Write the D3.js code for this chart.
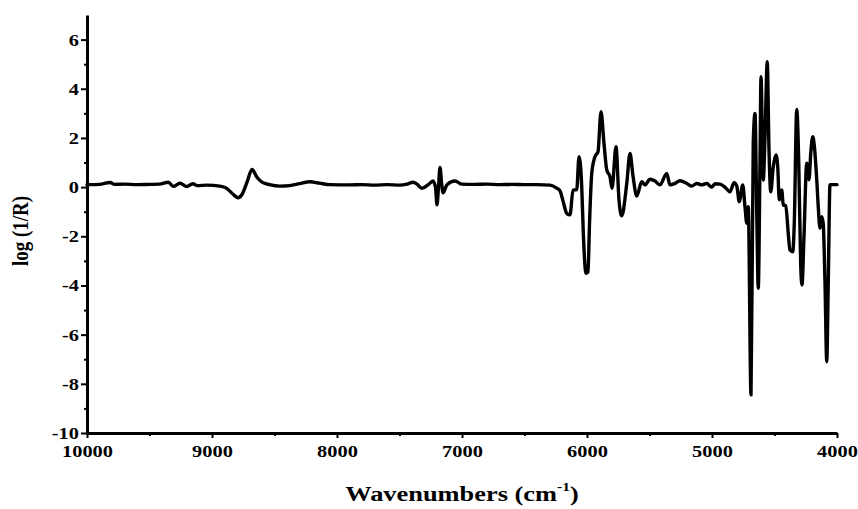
<!DOCTYPE html>
<html>
<head>
<meta charset="utf-8">
<script src="https://cdn.jsdelivr.net/npm/d3@7"></script>
<style>
  html, body { margin: 0; padding: 0; background: #fff; }
  svg { display: block; }
  .axis text { font-family: "Times New Roman", "Liberation Serif", serif; font-weight: bold; font-size: 17px; fill: #000; }
  .axis path, .axis line { stroke: #000; }
  .title { font-family: "Times New Roman", "Liberation Serif", serif; font-weight: bold; fill: #000; }
</style>
</head>
<body>
<svg id="chart" width="858" height="509"></svg>
<script>
// NIR spectrum, log(1/R) versus wavenumber
const wavenumbers = [
  10000, 9900, 9816, 9780, 9700, 9600, 9500, 9420, 9350, 9310, 9256, 9202, 9154, 9118, 9042,
  8936, 8882, 8840, 8792, 8760, 8720, 8680, 8640, 8600, 8540, 8456, 8380, 8300, 8216, 8140, 8056,
  7900, 7800, 7700, 7600, 7500, 7440, 7392, 7360, 7320, 7270, 7232, 7212, 7200, 7188, 7176, 7164,
  7152, 7120, 7056, 7000, 6900, 6800, 6700, 6600, 6500, 6400, 6296, 6240, 6216, 6190, 6162, 6136,
  6112, 6082, 6064, 6042, 6030, 6008, 5992, 5980, 5962, 5936, 5912, 5888, 5864, 5842, 5816, 5800,
  5768, 5744, 5722, 5682, 5656, 5632, 5602, 5562, 5536, 5496, 5456, 5416, 5362, 5336, 5296, 5256,
  5202, 5162, 5122, 5082, 5042, 5002, 4976, 4936, 4896, 4856, 4824, 4802, 4782, 4754, 4736, 4722,
  4710, 4688, 4670, 4656, 4642, 4630, 4616, 4608, 4590, 4576, 4558, 4544, 4530, 4510, 4488, 4474,
  4462, 4442, 4430, 4410, 4390, 4376, 4354, 4342, 4322, 4306, 4290, 4280, 4264, 4242, 4224, 4210,
  4194, 4182, 4162, 4150, 4136, 4122, 4110, 4096, 4082, 4070, 4056, 4000
];
const logInvR = [
  0.10, 0.11, 0.19, 0.11, 0.12, 0.10, 0.11, 0.12, 0.20, 0.03, 0.16, 0.02, 0.14, 0.06, 0.08,
  0.04, -0.05, -0.25, -0.43, -0.30, 0.20, 0.72, 0.40, 0.20, 0.10, 0.04, 0.06, 0.14, 0.22, 0.16, 0.10,
  0.09, 0.10, 0.08, 0.10, 0.08, 0.12, 0.20, 0.12, -0.05, 0.10, 0.25, 0.00, -0.72, 0.00, 0.80, 0.20,
  -0.23, 0.10, 0.25, 0.12, 0.11, 0.12, 0.10, 0.11, 0.10, 0.10, 0.08, -0.05, -0.15, -0.60, -1.07, -1.13,
  -0.12, -0.10, 1.24, 0.00, -1.80, -3.50, -3.45, -1.50, 0.56, 1.24, 1.44, 3.07, 1.78, 0.70, 0.42, -0.05,
  1.64, -0.53, -1.17, 0.15, 1.37, 0.45, -0.36, 0.22, 0.09, 0.32, 0.25, 0.09, 0.56, 0.09, 0.15, 0.26,
  0.15, 0.04, 0.15, 0.09, 0.15, 0.00, 0.14, 0.12, 0.00, -0.19, 0.18, 0.05, -0.59, 0.09, -0.80, -1.47,
  -0.80, -8.45, 1.78, 3.00, -1.00, -4.11, 1.00, 4.49, 0.29, 2.00, 5.10, 1.50, -0.19, 0.83, 1.31, 0.80,
  -0.52, -0.12, -0.73, -0.75, -1.88, -2.56, -2.63, -1.50, 3.16, 1.00, -3.24, -3.98, -2.00, 0.97, 0.30, 1.37,
  2.05, 1.70, 0.30, -0.80, -1.67, -1.20, -1.50, -3.90, -7.10, -3.90, 0.10, 0.10
];

const xMajorTicks = [10000, 9000, 8000, 7000, 6000, 5000, 4000];
const xMinorTicks = [9500, 8500, 7500, 6500, 5500, 4500];
const yMajorTicks = [-10, -8, -6, -4, -2, 0, 2, 4, 6];
const yMinorTicks = [-9, -7, -5, -3, -1, 1, 3, 5];

const svg = d3.select("#chart");
const plotLeft = 87, plotRight = 837, plotTop = 15, plotBottom = 433;
const stretch = 1.2;   // wide glyph proportions for all labels

const x = d3.scaleLinear().domain([10000, 4000]).range([plotLeft, plotRight]);
const y = d3.scaleLinear().domain([-10, 7]).range([plotBottom, plotTop]);

// minor ticks
const gxMinor = svg.append("g").attr("class", "axis").attr("transform", `translate(0,${plotBottom})`)
  .call(d3.axisBottom(x).tickValues(xMinorTicks).tickSize(3).tickSizeOuter(0).tickFormat(""));
gxMinor.select(".domain").remove();
gxMinor.selectAll("line").attr("stroke-width", 2);

const gyMinor = svg.append("g").attr("class", "axis").attr("transform", `translate(${plotLeft},0)`)
  .call(d3.axisLeft(y).tickValues(yMinorTicks).tickSize(3).tickSizeOuter(0).tickFormat(""));
gyMinor.select(".domain").remove();
gyMinor.selectAll("line").attr("stroke-width", 2);

// major axes
const gx = svg.append("g").attr("class", "axis").attr("transform", `translate(0,${plotBottom})`)
  .call(d3.axisBottom(x).tickValues(xMajorTicks).tickSize(5).tickSizeOuter(0).tickPadding(7)
    .tickFormat(d3.format("d")));
gx.select(".domain").attr("stroke-width", 3);
gx.selectAll("line").attr("stroke-width", 2);
gx.selectAll("text").attr("transform", `scale(${stretch},1)`);

const gy = svg.append("g").attr("class", "axis").attr("transform", `translate(${plotLeft},0)`)
  .call(d3.axisLeft(y).tickValues(yMajorTicks).tickSize(6).tickSizeOuter(0).tickPadding(2)
    .tickFormat(d => d3.format("d")(d).replace("\u2212", "-")));
gy.select(".domain").attr("stroke-width", 3);
gy.selectAll("line").attr("stroke-width", 2);
gy.selectAll("text").each(function () {
  const tx = +d3.select(this).attr("x");
  d3.select(this).attr("transform", `translate(${tx},0) scale(${stretch},1) translate(${-tx},0)`);
});

// spectrum
const points = wavenumbers.map((w, i) => [w, logInvR[i]]);
const line = d3.line()
  .x(d => x(d[0]))
  .y(d => y(d[1]))
  .curve(d3.curveMonotoneX);

svg.append("path")
  .datum(points)
  .attr("d", line)
  .attr("fill", "none")
  .attr("stroke", "#000")
  .attr("stroke-width", 3.4)
  .attr("stroke-linejoin", "round")
  .attr("stroke-linecap", "round");

// axis titles
const xt = svg.append("text").attr("class", "title")
  .attr("transform", `translate(${(plotLeft + plotRight) / 2},501) scale(${stretch},1)`)
  .attr("text-anchor", "middle").attr("font-size", 22);
xt.append("tspan").text("Wavenumbers (cm");
xt.append("tspan").attr("font-size", 13).attr("dy", -10).text("-1");
xt.append("tspan").attr("dy", 10).text(")");

svg.append("text").attr("class", "title")
  .attr("transform", `translate(28,231) scale(${stretch},1) rotate(-90)`)
  .attr("text-anchor", "middle").attr("font-size", 19)
  .text("log (1/R)");
</script>
</body>
</html>
